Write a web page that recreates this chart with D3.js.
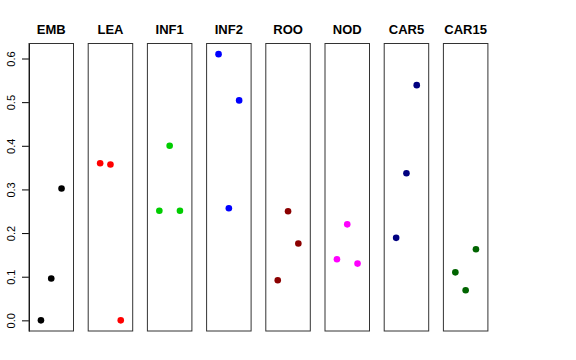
<!DOCTYPE html>
<html>
<head>
  <script src="https://d3js.org/d3.v7.min.js"></script>
  <style>
    body { margin: 0; background: #fff; }
    svg { display: block; font-family: "Liberation Sans", Arial, sans-serif; }
  </style>
</head>
<body>
  <div id="chart"></div>
  <script>
    // Data
    const tissues = ["EMB", "LEA", "INF1", "INF2", "ROO", "NOD", "CAR5", "CAR15"];
    const colors = ["#000000", "#ff0000", "#00cd00", "#0000ff", "#8b0000", "#ff00ff", "#000080", "#006400"];
    const values = [
      [0.000, 0.096, 0.302],
      [0.360, 0.357, 0.000],
      [0.251, 0.400, 0.251],
      [0.610, 0.257, 0.504],
      [0.092, 0.250, 0.176],
      [0.140, 0.220, 0.130],
      [0.189, 0.337, 0.539],
      [0.110, 0.069, 0.163]
    ];
    const yTicks = [0, 0.1, 0.2, 0.3, 0.4, 0.5, 0.6];

    const W = 576, H = 360;
    const plotTop = 43.5, plotBottom = 331;
    const panelX0 = 29, panelStep = 59.2, panelW = 44.5;

    const svg = d3.select("#chart").append("svg")
      .attr("width", W).attr("height", H);

    // R-style 4% expansion of the data range 0..0.61
    const yMin = 0, yMax = 0.61, ypad = (yMax - yMin) * 0.04;
    const y = d3.scaleLinear()
      .domain([yMin - ypad, yMax + ypad])
      .range([plotBottom, plotTop]);

    // x within each panel: positions 1..3 on a 0..4 range, expanded 4%
    const x = d3.scaleLinear()
      .domain([0 - 0.16, 4 + 0.16])
      .range([0, panelW]);

    // Left axis
    const yAxis = svg.append("g")
      .attr("transform", `translate(${panelX0},0)`)
      .call(d3.axisLeft(y).tickValues(yTicks).tickFormat(d3.format(".1f")).tickSize(7).tickSizeOuter(0));
    yAxis.select(".domain").attr("stroke", "#000");
    yAxis.selectAll(".tick line").attr("stroke", "#000");
    yAxis.selectAll(".tick text")
      .attr("x", null).attr("dy", null)
      .attr("transform", "translate(-14,0) rotate(-90)")
      .attr("text-anchor", "middle")
      .attr("font-size", 11)
      .attr("font-family", "Liberation Sans, Arial, sans-serif")
      .attr("fill", "#000");

    const panels = svg.selectAll("g.panel")
      .data(tissues.map((t, i) => ({ name: t, color: colors[i], vals: values[i] })))
      .join("g")
      .attr("class", "panel")
      .attr("transform", (d, i) => `translate(${panelX0 + i * panelStep},0)`);

    panels.append("rect")
      .attr("x", 0).attr("y", plotTop)
      .attr("width", panelW).attr("height", plotBottom - plotTop)
      .attr("fill", "none")
      .attr("stroke", "#333")
      .attr("stroke-width", 1);

    panels.append("text")
      .attr("x", panelW / 2)
      .attr("y", 34)
      .attr("text-anchor", "middle")
      .attr("font-weight", "bold")
      .attr("font-size", 13)
      .text(d => d.name);

    panels.selectAll("circle")
      .data(d => d.vals.map((v, j) => ({ v, j, color: d.color })))
      .join("circle")
      .attr("cx", d => x(d.j + 1))
      .attr("cy", d => y(d.v))
      .attr("r", 3.3)
      .attr("fill", d => d.color);
  </script>
</body>
</html>
